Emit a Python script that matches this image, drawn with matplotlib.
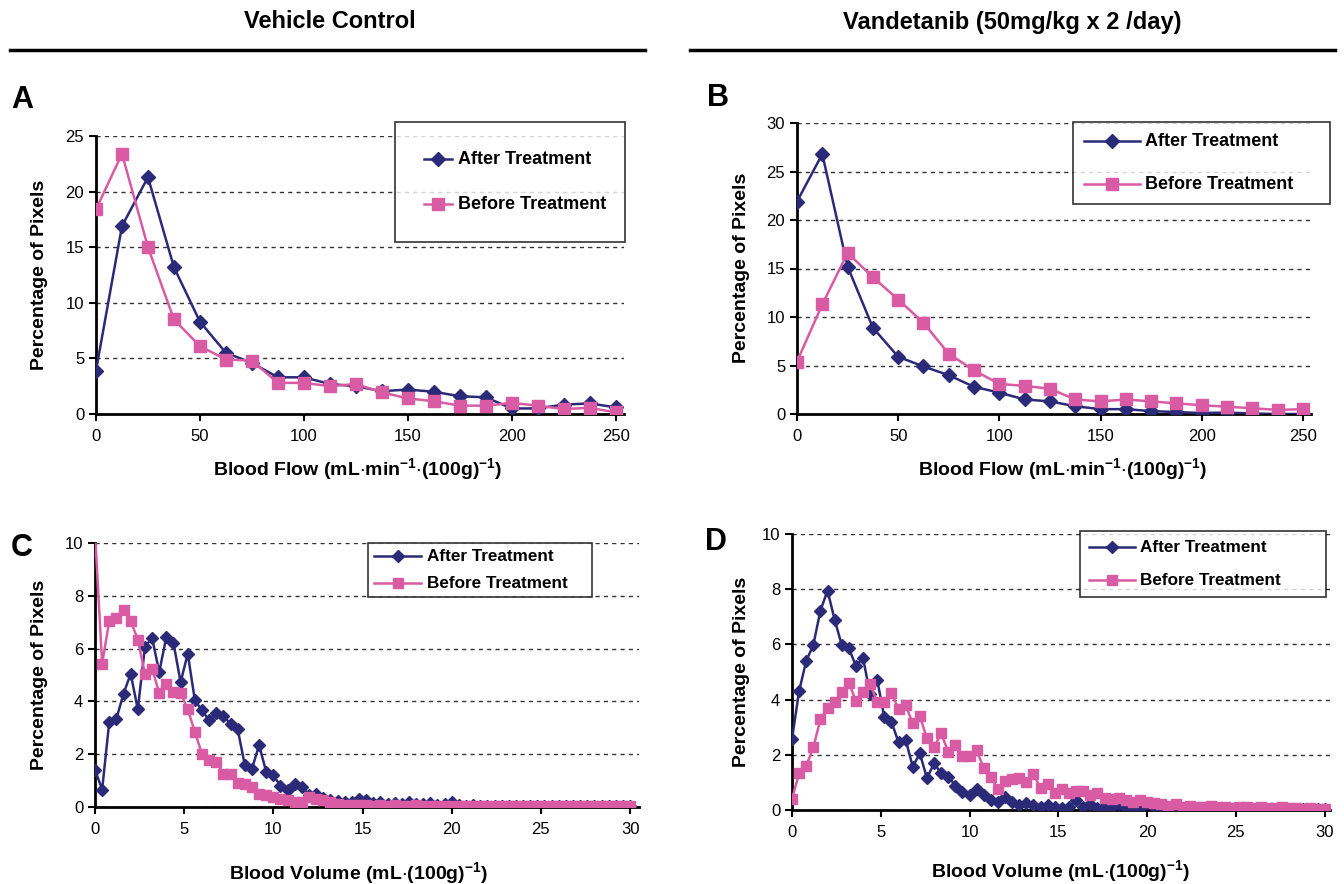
import matplotlib
matplotlib.use('Agg')
import matplotlib.pyplot as plt
from matplotlib.lines import Line2D

plt.rcParams['font.family'] = ['Liberation Sans', 'DejaVu Sans']
plt.rcParams['mathtext.default'] = 'regular'

# --- blood flow histograms (panels A and B) ---
flow_bins = [0, 12.5, 25, 37.5, 50, 62.5, 75, 87.5, 100, 112.5, 125,
             137.5, 150, 162.5, 175, 187.5, 200, 212.5, 225, 237.5, 250]

a_after = [3.9, 16.9, 21.3, 13.2, 8.3, 5.5, 4.6, 3.3, 3.3, 2.7, 2.5,
           2.05, 2.2, 2.0, 1.6, 1.5, 0.5, 0.5, 0.85, 0.95, 0.6]
a_before = [18.4, 23.4, 15.0, 8.5, 6.1, 4.9, 4.8, 2.8, 2.8, 2.5, 2.7,
            1.95, 1.4, 1.15, 0.75, 0.75, 1.0, 0.75, 0.45, 0.55, 0.15]

b_after = [21.9, 26.8, 15.2, 8.9, 5.9, 4.9, 4.0, 2.8, 2.2, 1.5, 1.3,
           0.8, 0.5, 0.5, 0.3, 0.2, 0.1, 0.15, 0.05, 0.0, 0.0]
b_before = [5.4, 11.3, 16.6, 14.1, 11.8, 9.4, 6.2, 4.5, 3.1, 2.9, 2.6,
            1.5, 1.3, 1.5, 1.3, 1.1, 0.9, 0.75, 0.6, 0.42, 0.5]

# --- blood volume histograms (panels C and D), bins of 0.4 ---
volume_bins = [round(0.4 * i, 1) for i in range(76)]

c_after = [1.41, 0.66, 3.22, 3.35, 4.29, 5.05, 3.70, 6.06, 6.41, 5.11,
           6.44, 6.21, 4.73, 5.81, 4.04, 3.66, 3.28, 3.56, 3.43, 3.16,
           2.95, 1.58, 1.45, 2.34, 1.33, 1.20, 0.80, 0.63, 0.86, 0.76,
           0.45, 0.50, 0.35, 0.28, 0.22, 0.20, 0.18, 0.30, 0.25, 0.15,
           0.20, 0.12, 0.15, 0.10, 0.18, 0.12, 0.10, 0.15, 0.08, 0.12,
           0.18, 0.06, 0.05, 0.06, 0.04, 0.05, 0.04, 0.05, 0.04, 0.03,
           0.04, 0.03, 0.04, 0.03, 0.03, 0.04, 0.03, 0.03, 0.02, 0.03,
           0.03, 0.02, 0.03, 0.02, 0.02, 0.02]
c_before = [10.4, 5.43, 7.05, 7.17, 7.47, 7.05, 6.34, 5.05, 5.24, 4.32,
            4.67, 4.36, 4.32, 3.70, 2.84, 2.00, 1.79, 1.70, 1.26, 1.26,
            0.90, 0.89, 0.76, 0.51, 0.44, 0.38, 0.32, 0.25, 0.19, 0.19,
            0.38, 0.32, 0.25, 0.19, 0.13, 0.08, 0.07, 0.06, 0.07, 0.05,
            0.06, 0.05, 0.06, 0.05, 0.05, 0.06, 0.05, 0.05, 0.04, 0.05,
            0.05, 0.04, 0.05, 0.04, 0.04, 0.05, 0.04, 0.04, 0.05, 0.04,
            0.04, 0.04, 0.05, 0.04, 0.04, 0.04, 0.04, 0.05, 0.04, 0.04,
            0.04, 0.04, 0.04, 0.04, 0.04, 0.04]

d_after = [2.57, 4.31, 5.40, 5.98, 7.22, 7.95, 6.90, 5.98, 5.86, 5.22,
           5.50, 4.20, 4.71, 3.36, 3.20, 2.45, 2.54, 1.57, 2.05, 1.15,
           1.69, 1.33, 1.21, 0.88, 0.66, 0.54, 0.75, 0.54, 0.36, 0.30,
           0.48, 0.30, 0.18, 0.24, 0.18, 0.10, 0.18, 0.12, 0.06, 0.10,
           0.35, 0.12, 0.20, 0.08, 0.15, 0.10, 0.20, 0.08, 0.12, 0.06,
           0.25, 0.10, 0.15, 0.05, 0.08, 0.05, 0.06, 0.04, 0.06, 0.04,
           0.05, 0.04, 0.05, 0.03, 0.04, 0.03, 0.04, 0.03, 0.03, 0.03,
           0.02, 0.03, 0.02, 0.02, 0.02, 0.02]
d_before = [0.40, 1.33, 1.59, 2.27, 3.28, 3.68, 3.90, 4.29, 4.61, 3.95,
            4.29, 4.57, 3.90, 3.92, 4.23, 3.66, 3.80, 3.14, 3.40, 2.60,
            2.27, 2.78, 2.11, 2.36, 1.96, 1.96, 2.17, 1.51, 1.21, 0.75,
            1.05, 1.11, 1.15, 1.03, 1.30, 0.79, 0.94, 0.60, 0.75, 0.60,
            0.70, 0.70, 0.55, 0.60, 0.45, 0.40, 0.45, 0.35, 0.30, 0.35,
            0.30, 0.25, 0.20, 0.15, 0.20, 0.12, 0.15, 0.12, 0.10, 0.15,
            0.10, 0.12, 0.08, 0.10, 0.12, 0.08, 0.10, 0.06, 0.08, 0.10,
            0.06, 0.08, 0.05, 0.06, 0.05, 0.04]

AFTER = '#2b2a78'
BEFORE = '#d85ba3'

W, H = 1344, 884
fig = plt.figure(figsize=(W / 100, H / 100), dpi=100)


def fx(px):
    return px / W


def fy(py):
    return 1 - py / H


def px_axes(left, top, right, bottom):
    return fig.add_axes([fx(left), fy(bottom), (right - left) / W, (bottom - top) / H])


def tracer(ax, x, after, before, xlim, ylim, xticks, yticks, ms_d, ms_s):
    ax.plot(x, after, color=AFTER, lw=1.8, marker='D', ms=ms_d, mec=AFTER, mfc=AFTER,
            label='After Treatment', zorder=3)
    ax.plot(x, before, color=BEFORE, lw=1.8, marker='s', ms=ms_s, mec=BEFORE, mfc=BEFORE,
            label='Before Treatment', zorder=4)
    ax.set_xlim(*xlim)
    ax.set_ylim(*ylim)
    ax.set_xticks(xticks)
    ax.set_yticks(yticks)
    for s in ['top', 'right']:
        ax.spines[s].set_visible(False)
    for s in ['left', 'bottom']:
        ax.spines[s].set_linewidth(2)
    ax.tick_params(direction='out', length=5, width=1.5, labelsize=12)
    ax.tick_params(axis='x', pad=6)
    ax.yaxis.grid(True, linestyle=(0, (3, 3)), color='#333333', lw=1)
    ax.set_axisbelow(True)


ax_a = px_axes(96, 136, 624, 414)
tracer(ax_a, flow_bins, a_after, a_before, (0, 254), (0, 25),
       range(0, 251, 50), range(0, 26, 5), 6.8, 8.2)
ax_b = px_axes(797, 123, 1311, 414)
tracer(ax_b, flow_bins, b_after, b_before, (0, 254), (0, 30),
       range(0, 251, 50), range(0, 31, 5), 6.8, 8.2)
ax_c = px_axes(95, 543, 639, 807)
tracer(ax_c, volume_bins, c_after, c_before, (0, 30.5), (0, 10),
       range(0, 31, 5), range(0, 11, 2), 6.5, 7.8)
ax_d = px_axes(792, 534, 1330, 810)
tracer(ax_d, volume_bins, d_after, d_before, (0, 30.3), (0, 10),
       range(0, 31, 5), range(0, 11, 2), 6.5, 7.8)

# legendes : boite (gauche, haut, droite, bas) en pixels
leg_kw = dict(loc='upper left', mode='expand', bbox_transform=fig.transFigure, frameon=True,
              fancybox=False, edgecolor='black', prop={'weight': 'bold'})
for ax, box, size, spacing, hl, bp in [(ax_a, (395, 122, 625, 238), 13, 2.0, 2.0, 2.1),
                                       (ax_b, (1073, 122, 1330, 205), 13, 1.85, 4.0, 0.8),
                                       (ax_c, (368, 543, 592, 599), 12.3, 0.85, 3.4, 0.45),
                                       (ax_d, (1080, 531, 1326, 598), 12.3, 1.3, 3.3, 0.65)]:
    l, t, r, b = box
    leg = ax.legend(bbox_to_anchor=(fx(l), fy(b), (r - l) / W, (b - t) / H),
                    labelspacing=spacing, handlelength=hl, handletextpad=0.4,
                    borderpad=bp, borderaxespad=0, **leg_kw)
    leg.get_frame().set_linewidth(1.2)
    for txt in leg.get_texts():
        txt.set_fontsize(size)

# titres des axes
flow_label = 'Blood Flow (mL$\\cdot$min$^{-1}$$\\cdot$(100g)$^{-1}$)'
vol_label = 'Blood Volume (mL$\\cdot$(100g)$^{-1}$)'
lab_kw = dict(fontsize=14, fontweight='bold', ha='center', va='center')
fig.text(fx(358), fy(469), flow_label, **lab_kw)
fig.text(fx(1063), fy(469), flow_label, **lab_kw)
fig.text(fx(358), fy(873), vol_label, **lab_kw)
fig.text(fx(1060), fy(871), vol_label, **lab_kw)
fig.text(fx(40), fy(275), 'Percentage of Pixels', rotation=90, **lab_kw)
fig.text(fx(742), fy(268), 'Percentage of Pixels', rotation=90, **lab_kw)
fig.text(fx(40), fy(675), 'Percentage of Pixels', rotation=90, **lab_kw)
fig.text(fx(742), fy(672), 'Percentage of Pixels', rotation=90, **lab_kw)

# lettres des panneaux
for lettre, x, y in [('A', 22, 100), ('B', 718, 98), ('C', 22, 548), ('D', 716, 542)]:
    fig.text(fx(x), fy(y), lettre, fontsize=22, fontweight='bold', ha='center', va='center')

# en-tetes des colonnes
fig.text(fx(330), fy(22), 'Vehicle Control', fontsize=17, fontweight='bold', ha='center', va='center')
fig.text(fx(1012), fy(22), 'Vandetanib (50mg/kg x 2 /day)', fontsize=17, fontweight='bold',
         ha='center', va='center')
fig.add_artist(Line2D([fx(10), fx(645)], [fy(50), fy(50)], color='black', lw=2.5))
fig.add_artist(Line2D([fx(690), fx(1335)], [fy(50), fy(50)], color='black', lw=2.5))

fig.savefig('out.png', dpi=100)
